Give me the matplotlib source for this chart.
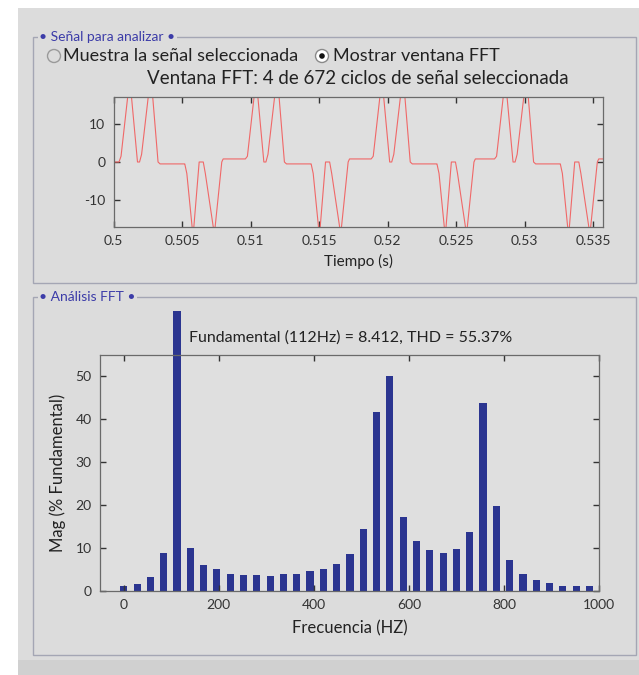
import matplotlib
matplotlib.use("Agg")
import matplotlib.pyplot as plt
from matplotlib.patches import Rectangle, Circle

plt.rcParams["font.family"] = ["Lato", "DejaVu Sans"]
plt.rcParams["axes.unicode_minus"] = False

# ---------- datos: señal (ventana FFT), tiempo en ms desde t = 0.5 s ----------
tiempo_ms = [
    0.00, 0.40, 0.55, 1.05, 1.30, 1.75, 1.90, 2.05, 2.55, 2.85, 3.25, 3.40,
    5.15, 5.20, 5.35, 5.75, 5.85, 6.25, 6.55, 6.70, 7.30, 7.40, 7.90, 8.00,
    9.62, 9.77, 10.27, 10.52, 10.97, 11.12, 11.27, 11.77, 12.07, 12.47, 12.62,
    14.37, 14.42, 14.57, 14.97, 15.07, 15.47, 15.77, 15.92, 16.52, 16.62, 17.12, 17.22,
    18.80, 18.95, 19.45, 19.70, 20.15, 20.30, 20.45, 20.95, 21.25, 21.65, 21.80,
    23.55, 23.60, 23.75, 24.15, 24.25, 24.65, 24.95, 25.10, 25.70, 25.80, 26.30, 26.40,
    27.80, 27.95, 28.45, 28.70, 29.15, 29.30, 29.45, 29.95, 30.25, 30.65, 30.80,
    32.55, 32.60, 32.75, 33.15, 33.25, 33.65, 33.95, 34.10, 34.70, 34.80, 35.30, 35.40, 35.714,
]
senal = [
    0.0, 0.0, 1.5, 17.5, 17.5, 0.0, 0.0, 2.0, 17.5, 17.5, 0.0, -0.5,
    -0.5, -0.5, -3.0, -17.5, -17.5, 0.0, 0.0, -3.0, -17.5, -17.5, 0.0, 0.8,
    0.8, 1.5, 17.5, 17.5, 0.0, 0.0, 2.0, 17.5, 17.5, 0.0, -0.5,
    -0.5, -0.5, -3.0, -17.5, -17.5, 0.0, 0.0, -3.0, -17.5, -17.5, 0.0, 0.8,
    0.8, 1.5, 17.5, 17.5, 0.0, 0.0, 2.0, 17.5, 17.5, 0.0, -0.5,
    -0.5, -0.5, -3.0, -17.5, -17.5, 0.0, 0.0, -3.0, -17.5, -17.5, 0.0, 0.8,
    0.8, 1.5, 17.5, 17.5, 0.0, 0.0, 2.0, 17.5, 17.5, 0.0, -0.5,
    -0.5, -0.5, -3.0, -17.5, -17.5, 0.0, 0.0, -3.0, -17.5, -17.5, 0.0, 0.8, 0.8,
]
t_xticks = [0.5, 0.505, 0.51, 0.515, 0.52, 0.525, 0.53, 0.535]
t_xlabels = ["0.5", "0.505", "0.51", "0.515", "0.52", "0.525", "0.53", "0.535"]

# ---------- datos: espectro FFT ----------
frecuencias = [0, 28, 56, 84, 112, 140, 168, 196, 224, 252, 280, 308, 336, 364, 392, 420,
               448, 476, 504, 532, 560, 588, 616, 644, 672, 700, 728, 756, 784, 812, 840,
               868, 896, 924, 952, 980]
magnitud = [1.0, 1.5, 3.1, 8.7, 65.2, 10.0, 6.1, 5.0, 4.0, 3.7, 3.7, 3.4, 3.9, 4.0, 4.5, 5.1,
            6.2, 8.6, 14.3, 41.6, 50.0, 17.3, 11.6, 9.5, 8.8, 9.8, 13.6, 43.9, 19.7, 7.1, 3.9,
            2.6, 1.9, 1.2, 1.2, 1.0]
f_xticks = [0, 200, 400, 600, 800, 1000]
f_yticks = [0, 10, 20, 30, 40, 50]

W, H = 639, 675
GRIS = "#dcdcdc"
AZUL_TIT = "#3c3ca8"
BORDE = "#a4a6b4"
TXT = "#222222"

fig = plt.figure(figsize=(W / 100, H / 100), dpi=100)
fig.patch.set_facecolor("white")

# fondo en coordenadas de pixel
bg = fig.add_axes([0, 0, 1, 1], zorder=-5)
bg.set_xlim(0, W); bg.set_ylim(H, 0); bg.axis("off")
bg.add_patch(Rectangle((18, 8), W - 18, H - 8, color=GRIS, lw=0))
bg.add_patch(Rectangle((18, 660), W - 18, H - 660, color="#d0d0d0", lw=0))

def panel(y0, y1, titulo):
    bg.add_patch(Rectangle((33, y0), 636 - 33, y1 - y0, fill=False, ec=BORDE, lw=1.0))
    bg.text(39, y0, "• " + titulo + " •", color=AZUL_TIT, fontsize=10, va="center", ha="left",
            bbox=dict(facecolor=GRIS, edgecolor="none", pad=1.0))

panel(37, 283, "Señal para analizar")
panel(297, 655, "Análisis FFT")

# radio buttons
bg.add_patch(Circle((54, 56), 6.5, fill=False, ec="#9a9a9a", lw=1.0))
bg.text(63, 56, "Muestra la señal seleccionada", fontsize=13, va="center", ha="left", color=TXT)
bg.add_patch(Circle((322, 56), 6.5, fc="white", ec="#8a8a8a", lw=1.0))
bg.add_patch(Circle((322, 56), 2.8, fc="#111111", ec="none"))
bg.text(333, 56, "Mostrar ventana FFT", fontsize=13, va="center", ha="left", color=TXT)

def estilo(ax):
    ax.set_facecolor("#dfdfdf")
    for s in ax.spines.values():
        s.set_color("#6a6a6a"); s.set_linewidth(0.9)
    ax.tick_params(direction="in", top=True, right=True, length=4, width=1.0,
                   colors="#333333", labelsize=10, pad=6)

# ---------- panel superior: señal ----------
ax1 = fig.add_axes([113.5 / W, 1 - 227 / H, (603 - 113.5) / W, (227 - 97) / H])
estilo(ax1)
ax1.plot([0.5 + v / 1000 for v in tiempo_ms], senal, color="#f06868", lw=0.8)
ax1.set_xlim(0.5, 0.5 + 4 / 112)
ax1.set_ylim(-17, 17)
ax1.set_xticks(t_xticks, t_xlabels)
ax1.set_yticks([-10, 0, 10])
ax1.set_xlabel("Tiempo (s)", fontsize=11, labelpad=5, color=TXT)
bg.text(358, 78, "Ventana FFT: 4 de 672 ciclos de señal seleccionada", fontsize=13.5,
        ha="center", va="center", color=TXT)

# ---------- panel inferior: espectro ----------
ax2 = fig.add_axes([100 / W, 1 - 590.7 / H, (599 - 100) / W, (590.7 - 355) / H])
estilo(ax2)
ax2.bar(frecuencias, magnitud, width=15, color="#2b3590", lw=0, clip_on=False, zorder=1)
ax2.set_xlim(-50, 1000)
ax2.set_ylim(0, 55)
ax2.set_xticks(f_xticks)
ax2.set_yticks(f_yticks)
ax2.set_xlabel("Frecuencia (HZ)", fontsize=12, labelpad=7, color=TXT)
ax2.set_ylabel("Mag (% Fundamental)", fontsize=12, labelpad=7, color=TXT)
bg.text(351, 338, "Fundamental (112Hz) = 8.412, THD = 55.37%", fontsize=11.5,
        ha="center", va="center", color=TXT)

fig.savefig("out.png", dpi=100)
